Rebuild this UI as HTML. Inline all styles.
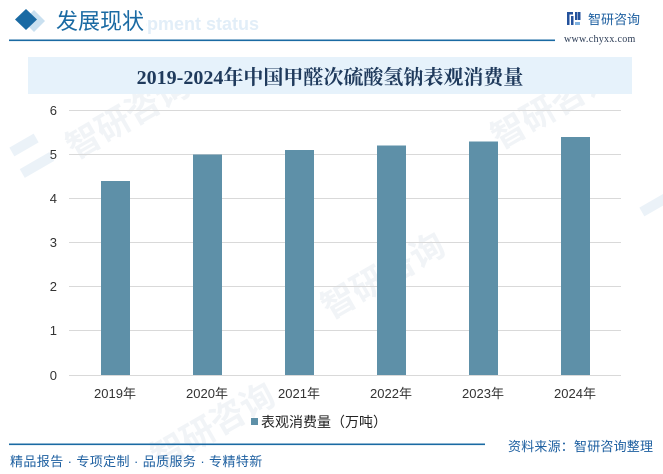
<!DOCTYPE html>
<html><head><meta charset="utf-8"><style>
html,body{margin:0;padding:0;background:#fff;}
body{width:663px;height:474px;overflow:hidden;position:relative;font-family:"Liberation Sans","Noto Sans CJK SC",sans-serif;}
</style></head><body>
<svg width="663" height="474" viewBox="0 0 663 474" xmlns="http://www.w3.org/2000/svg" style="position:absolute;left:0;top:0">
  <!-- watermarks -->
  <g fill="#f1f4f7" font-family="'Liberation Sans','Noto Sans CJK SC',sans-serif" font-weight="bold">
    <g transform="translate(75,160) rotate(-30)"><text font-size="34" x="0" y="0">智研咨询</text></g>
    <g transform="translate(160,470) rotate(-30)"><text font-size="34" x="0" y="0">智研咨询</text></g>
    <g transform="translate(330,320) rotate(-30)"><text font-size="34" x="0" y="0">智研咨询</text></g>
    <g transform="translate(500,150) rotate(-30)"><text font-size="34" x="0" y="0">智研咨询</text></g>
    <g transform="translate(820,470) rotate(-30)"><text font-size="34" x="0" y="0">智研咨询</text></g>
  </g>
  <g fill="#ebf2f8">
    <rect x="10" y="140" width="28" height="10" transform="rotate(-30 24 145)"/>
    <rect x="20" y="160" width="34" height="10" transform="rotate(-30 37 165)"/>
    <rect x="640" y="200" width="28" height="10" transform="rotate(-30 654 205)"/>
  </g>

  <!-- header -->
  <polygon points="34,10 45,21 34,32 23,21" fill="#c9e0f0"/>
  <polygon points="26,9 37,19.5 26,30 15,19.5" fill="#1a6aa3"/>
  <text x="88" y="30" font-size="18" font-weight="bold" fill="#e2eef8" font-family="'Liberation Sans',sans-serif">Development status</text>
  <rect x="54" y="6" width="92" height="28" fill="#fff"/>
  <text x="56" y="29" font-size="22" fill="#1a6aa3" font-family="'Liberation Sans','Noto Sans CJK SC',sans-serif">发展现状</text>
  <rect x="9" y="39.5" width="546" height="1.6" fill="#1a6aa3"/>

  <!-- logo -->
  <g fill="#24529c">
    <rect x="567" y="12" width="6" height="2.5"/>
    <rect x="567" y="12" width="2.5" height="13"/>
    <rect x="571" y="16" width="2.5" height="9"/>
    <rect x="575" y="12" width="2.5" height="8"/>
    <rect x="575" y="22" width="5" height="3" fill="#7fb2e0"/>
    <rect x="578" y="12" width="2.5" height="8"/>
  </g>
  <text x="588" y="24" font-size="13" fill="#1d5fa0" font-family="'Liberation Sans','Noto Sans CJK SC',sans-serif">智研咨询</text>
  <text x="564" y="42" font-size="10" fill="#2b3b55" font-family="'Liberation Serif',serif" letter-spacing="0.3">www.chyxx.com</text>

  <!-- title band -->
  <rect x="28" y="57" width="604" height="37" fill="#e6f2fb"/>
  <text x="330" y="84" text-anchor="middle" font-size="20" font-weight="bold" fill="#1f3a5c" font-family="'Liberation Serif','Noto Serif CJK SC',serif">2019-2024年中国甲醛次硫酸氢钠表观消费量</text>

  <!-- gridlines -->
  <g stroke="#d9d9d9" stroke-width="1">
    <line x1="69" y1="110.5" x2="621" y2="110.5"/>
    <line x1="69" y1="154.5" x2="621" y2="154.5"/>
    <line x1="69" y1="198.5" x2="621" y2="198.5"/>
    <line x1="69" y1="242.5" x2="621" y2="242.5"/>
    <line x1="69" y1="286.5" x2="621" y2="286.5"/>
    <line x1="69" y1="330.5" x2="621" y2="330.5"/>
    <line x1="69" y1="375.5" x2="621" y2="375.5"/>
  </g>
  <!-- y labels -->
  <g font-size="13" fill="#333" text-anchor="end" font-family="'Liberation Sans',sans-serif">
    <text x="57" y="115">6</text>
    <text x="57" y="159">5</text>
    <text x="57" y="203">4</text>
    <text x="57" y="247">3</text>
    <text x="57" y="291">2</text>
    <text x="57" y="335">1</text>
    <text x="57" y="380">0</text>
  </g>
  <!-- bars -->
  <g fill="#5e90a8">
    <rect x="101" y="181" width="29" height="194"/>
    <rect x="193" y="154.5" width="29" height="220.5"/>
    <rect x="285" y="150" width="29" height="225"/>
    <rect x="377" y="145.5" width="29" height="229.5"/>
    <rect x="469" y="141.5" width="29" height="233.5"/>
    <rect x="561" y="137" width="29" height="238"/>
  </g>
  <!-- x labels -->
  <g font-size="13" fill="#333" text-anchor="middle" font-family="'Liberation Sans','Noto Sans CJK SC',sans-serif">
    <text x="115" y="398">2019年</text>
    <text x="207" y="398">2020年</text>
    <text x="299" y="398">2021年</text>
    <text x="391" y="398">2022年</text>
    <text x="483" y="398">2023年</text>
    <text x="575" y="398">2024年</text>
  </g>
  <!-- legend -->
  <rect x="251" y="418" width="7" height="7" fill="#5e90a8"/>
  <text x="261" y="427" font-size="14" fill="#222" font-family="'Liberation Sans','Noto Sans CJK SC',sans-serif">表观消费量（万吨）</text>

  <!-- footer -->
  <rect x="9" y="443.5" width="476" height="1.6" fill="#1a6aa3"/>
  <text x="508" y="451" font-size="13" fill="#1d5fa0" font-family="'Liberation Sans','Noto Sans CJK SC',sans-serif" letter-spacing="0.2">资料来源：智研咨询整理</text>
  <text x="10" y="466" font-size="13" fill="#1d5fa0" font-family="'Liberation Sans','Noto Sans CJK SC',sans-serif" letter-spacing="0.4">精品报告 · 专项定制 · 品质服务 · 专精特新</text>
</svg>
</body></html>
